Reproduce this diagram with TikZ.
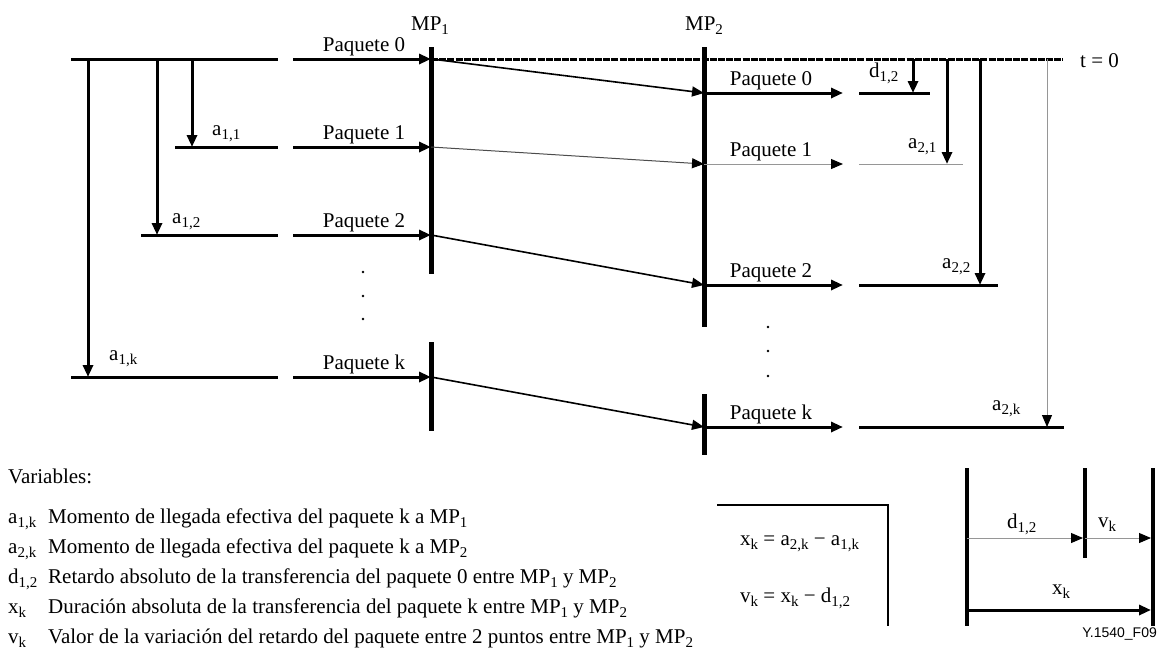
\documentclass[tikz,border=0pt]{standalone}
\usepackage{fontspec}
\setmainfont{Liberation Serif}
\newfontfamily\figfont{Liberation Sans}
\usetikzlibrary{arrows.meta,positioning}
\definecolor{faintgray}{RGB}{150,150,150}
\newcommand\sbs[1]{\raisebox{-4pt}{\fontsize{15}{16}\selectfont#1}}

\tikzset{
  heavy/.style={line width=3pt},
  mpbar/.style={line width=5pt},
  diag/.style={line width=1.6pt},
  faintdiag/.style={line width=1pt, black!70},
  faint/.style={line width=1pt, faintgray},
  pkttip/.style={-{Triangle[length=12pt,width=10pt,color=black]}},
  lbl/.style={anchor=base},
  lblw/.style={anchor=base west}
}

\begin{document}
\begin{tikzpicture}[x=1pt, y=-1pt, every node/.style={font=\fontsize{21}{24}\selectfont, inner sep=0pt}]
  \useasboundingbox (0,0) rectangle (1158,659);
  % measuring points
  \coordinate (mp1 top) at (431,47);  \coordinate (mp1 gap) at (431,274);
  \coordinate (mp1 low) at (431,342); \coordinate (mp1 bot) at (431,431);
  \coordinate (mp2 top) at (704,47);  \coordinate (mp2 gap) at (704,327);
  \coordinate (mp2 low) at (704,394); \coordinate (mp2 bot) at (704,455);
  \draw[mpbar] (mp1 top) -- (mp1 gap);
  \draw[mpbar] (mp1 low) -- (mp1 bot);
  \draw[mpbar] (mp2 top) -- (mp2 gap);
  \draw[mpbar] (mp2 low) -- (mp2 bot);
  \node[lbl] (mp1) at (430,30) {MP\sbs{1}};
  \node[lbl] (mp2) at (704,30) {MP\sbs{2}};
  % one row per packet: sent, crossing, received
  \foreach \n/\ya/\yb/\xl/\xr/\rs/\ds in {0/59/93/71/930/heavy/diag,
      1/147/164/175/963/faint/faintdiag, 2/235/285/141/998/heavy/diag,
      k/377/427/71/1064/heavy/diag}{
    \coordinate (ls\n) at (\xl,\ya);
    \coordinate (le\n) at (278,\ya);
    \coordinate (as\n) at (293,\ya);
    \coordinate (p\n)  at (431,\ya);
    \coordinate (q\n)  at (704,\yb);
    \coordinate (be\n) at (843,\yb);
    \coordinate (rs\n) at (859,\yb);
    \coordinate (re\n) at (\xr,\yb);
    \draw[heavy] (ls\n) -- (le\n);
    \draw[heavy, pkttip] (as\n) -- (p\n);
    \draw[\ds, pkttip] (p\n) -- (q\n);
    \draw[\rs, pkttip] (q\n) -- (be\n);
    \draw[\rs] (rs\n) -- (re\n);
    \node[lbl] (pa\n) at (364,\ya-8) {Paquete \n};
    \node[lbl] (pb\n) at (771,\yb-8) {Paquete \n};
  }
  % t = 0 reference
  \coordinate (t0) at (1063,59);
  \draw[line width=3pt, dash pattern=on 7pt off 1.2pt] (p0) -- (t0);
  \node[lblw] (t0 lbl) at (1080,67) {t = 0};
  % arrival times at MP1
  \coordinate (ta1) at (192,59);
  \coordinate (ta2) at (157,59);
  \coordinate (tak) at (88,59);
  \draw[heavy, pkttip] (ta1) -- (ta1 |- ls1);
  \draw[heavy, pkttip] (ta2) -- (ta2 |- ls2);
  \draw[heavy, pkttip] (tak) -- (tak |- lsk);
  \node[lblw] (a11) at (212,135) {a\sbs{1,1}};
  \node[lblw] (a12) at (172,223) {a\sbs{1,2}};
  \node[lblw] (a1k) at (109,360) {a\sbs{1,k}};
  % arrival times at MP2
  \coordinate (td) at (913,59);
  \coordinate (tb1) at (947,59);
  \coordinate (tb2) at (980,59);
  \coordinate (tbk) at (1047,59);
  \draw[heavy, pkttip] (td) -- (td |- q0);
  \draw[heavy, pkttip] (tb1) -- (tb1 |- q1);
  \draw[heavy, pkttip] (tb2) -- (tb2 |- q2);
  \draw[faint, pkttip] (tbk) -- (tbk |- qk);
  \node[lblw] (d12) at (869,77) {d\sbs{1,2}};
  \node[lblw] (a21) at (908,148) {a\sbs{2,1}};
  \node[lblw] (a22) at (942,268) {a\sbs{2,2}};
  \node[lblw] (a2k) at (992,410) {a\sbs{2,k}};
  % ellipsis
  \foreach \y in {272,296,319} \fill (363,\y) circle (1.3pt);
  \foreach \y in {327,351,376} \fill (768,\y) circle (1.3pt);
  % legend
  \node[lblw] (var) at (8,483) {Variables:};
  \foreach \s/\t [count=\i] in {a\sbs{1,k}/Momento de llegada efectiva del paquete k a MP\sbs{1},
      a\sbs{2,k}/Momento de llegada efectiva del paquete k a MP\sbs{2},
      d\sbs{1,2}/Retardo absoluto de la transferencia del paquete 0 entre MP\sbs{1} y MP\sbs{2},
      x\sbs{k}/Duración absoluta de la transferencia del paquete k entre MP\sbs{1} y MP\sbs{2},
      v\sbs{k}/Valor de la variación del retardo del paquete entre 2 puntos entre MP\sbs{1} y MP\sbs{2}}{
    \node[lblw] (sym\i) at (8,493+30*\i) {\s};
    \node[lblw] (txt\i) at (48,493+30*\i) {\t};
  }
  % formulas
  \coordinate (fb a) at (717,505);
  \coordinate (fb b) at (888,505);
  \coordinate (fb c) at (888,626);
  \draw[line width=2pt] (fb a) -- (fb b) -- (fb c);
  \node[lblw] (fx) at (740,545) {x\sbs{k} = a\sbs{2,k} − a\sbs{1,k}};
  \node[lblw] (fv) at (740,602) {v\sbs{k} = x\sbs{k} − d\sbs{1,2}};
  % delay composition
  \coordinate (sl top) at (967,468); \coordinate (sl bot) at (967,626);
  \coordinate (sm top) at (1085,468); \coordinate (sm bot) at (1085,558);
  \coordinate (sr top) at (1153,468); \coordinate (sr bot) at (1153,626);
  \draw[line width=4pt] (sl top) -- (sl bot);
  \draw[line width=4pt] (sm top) -- (sm bot);
  \draw[line width=4pt] (sr top) -- (sr bot);
  \coordinate (sd a) at (967,538);
  \coordinate (sd b) at (1083,538);
  \coordinate (sd c) at (1151,538);
  \coordinate (sx a) at (967,610);
  \coordinate (sx b) at (1151,610);
  \draw[faint, pkttip] (sd a) -- (sd b);
  \draw[faint, pkttip] (sm top |- sd a) -- (sd c);
  \draw[heavy, pkttip] (sx a) -- (sx b);
  \node[lblw] (sd lbl) at (1007,528) {d\sbs{1,2}};
  \node[lblw] (sv lbl) at (1098,527) {v\sbs{k}};
  \node[lblw] (sx lbl) at (1052,594) {x\sbs{k}};
  \node[anchor=base east, font=\figfont\fontsize{14}{16}\selectfont] (fig id) at (1157,637) {Y.1540\_F09};
\end{tikzpicture}
\end{document}
